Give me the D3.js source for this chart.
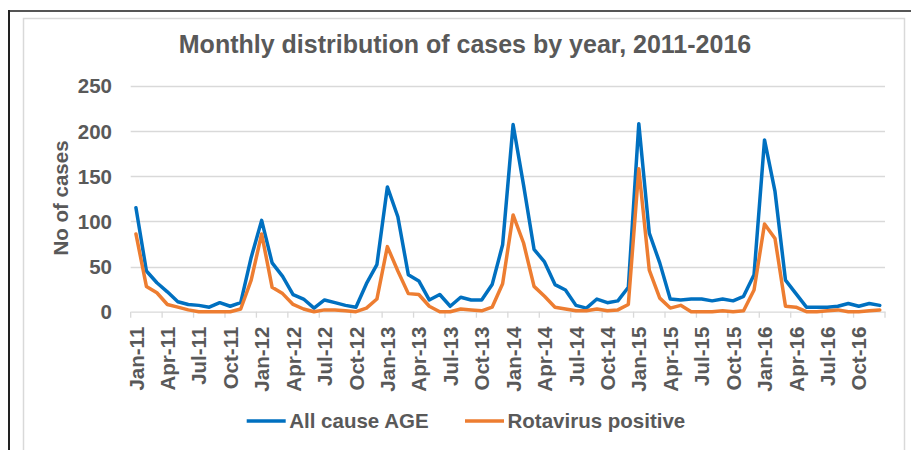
<!DOCTYPE html>
<html><head><meta charset="utf-8">
<script src="https://cdn.jsdelivr.net/npm/d3@7"></script>
<style>
html,body{margin:0;padding:0;background:#fff;}
svg text{font-family:"Liberation Sans",Arial,sans-serif;font-weight:bold;fill:#595959;}
</style></head>
<body>
<svg id="c" width="911" height="450"></svg>
<script>
const months = [
"Jan-11","Feb-11","Mar-11","Apr-11","May-11","Jun-11","Jul-11","Aug-11","Sep-11","Oct-11","Nov-11","Dec-11",
"Jan-12","Feb-12","Mar-12","Apr-12","May-12","Jun-12","Jul-12","Aug-12","Sep-12","Oct-12","Nov-12","Dec-12",
"Jan-13","Feb-13","Mar-13","Apr-13","May-13","Jun-13","Jul-13","Aug-13","Sep-13","Oct-13","Nov-13","Dec-13",
"Jan-14","Feb-14","Mar-14","Apr-14","May-14","Jun-14","Jul-14","Aug-14","Sep-14","Oct-14","Nov-14","Dec-14",
"Jan-15","Feb-15","Mar-15","Apr-15","May-15","Jun-15","Jul-15","Aug-15","Sep-15","Oct-15","Nov-15","Dec-15",
"Jan-16","Feb-16","Mar-16","Apr-16","May-16","Jun-16","Jul-16","Aug-16","Sep-16","Oct-16","Nov-16","Dec-16"];
const allCauseAGE = [
115,45,32,22,11,8,7,5,10,6,10,60,
101,54,39,19,14,4,13,10,7,5,31,52,
138,105,41,34,13,19,6,16,13,13,30,74,
207,140,69,55,30,24,7,4,14,10,12,27,
208,87,54,14,13,14,14,12,14,12,17,41,
190,133,35,20,5,5,5,6,9,6,9,7];
const rotavirusPositive = [
86,28,21,8,5,2,0,0,0,0,3,35,
86,27,20,8,3,0,2,2,1,0,4,14,
72,45,20,19,6,0,0,3,2,1,5,31,
107,76,28,17,5,3,1,1,3,1,2,8,
158,46,15,4,7,0,0,0,1,0,1,24,
97,81,6,5,0,0,1,2,0,0,1,2];
const yTicks = [0,50,100,150,200,250];
const seriesNames = ["All cause AGE","Rotavirus positive"];
const colors = ["#0070C0","#ED7D31"];

const svg = d3.select("#c");
// frame
svg.append("line").attr("x1",9).attr("x2",911).attr("y1",11).attr("y2",11).attr("stroke","#555").attr("stroke-width",2);
svg.append("line").attr("x1",9).attr("x2",9).attr("y1",10).attr("y2",450).attr("stroke","#222").attr("stroke-width",2);
svg.append("rect").attr("x",23.5).attr("y",18.5).attr("width",881).attr("height",440).attr("fill","none").attr("stroke","#d9d9d9").attr("stroke-width",1.5);

const x = d3.scaleBand().domain(months).range([130.7,885]).padding(0);
const y = d3.scaleLinear().domain([0,250]).range([311.7,85.7]);

// gridlines
svg.append("g").selectAll("line").data(yTicks.slice(1)).join("line")
  .attr("x1",130.7).attr("x2",885).attr("y1",d=>Math.round(y(d))+0.5).attr("y2",d=>Math.round(y(d))+0.5)
  .attr("stroke","#d9d9d9").attr("stroke-width",1.3);

// y axis labels
const ya = svg.append("g").attr("transform","translate(112,0)")
  .call(d3.axisLeft(y).tickValues(yTicks).tickSize(0).tickPadding(0));
ya.select(".domain").remove();
ya.selectAll("text").attr("font-size",20.5).attr("fill","#595959").attr("font-family",null).attr("dy","0.35em");

// x axis
const xa = svg.append("g").attr("transform",`translate(0,${y(0)})`)
  .call(d3.axisBottom(x).tickValues(months.filter((d,i)=>i%3===0)).tickSize(0));
xa.select(".domain").attr("stroke","#d9d9d9").attr("stroke-width",1.3);
xa.selectAll("text").attr("font-size",20.5).attr("fill","#595959").attr("font-family",null)
  .attr("transform","rotate(-90)").attr("text-anchor","end")
  .attr("x",-15).attr("y",0.5).attr("dy","0.35em");
// tick marks at category boundaries
const boundaries = months.filter((d,i)=>i%3===0).map(d=>x(d)).concat([x.range()[1]]);
svg.append("g").selectAll("line").data(boundaries).join("line")
  .attr("x1",d=>d).attr("x2",d=>d).attr("y1",y(0)).attr("y2",y(0)+6)
  .attr("stroke","#d9d9d9").attr("stroke-width",1.3);

// lines
const line = d3.line().x((d,i)=>x(months[i])+x.bandwidth()/2).y(d=>y(d));
[allCauseAGE, rotavirusPositive].forEach((s,k)=>{
  svg.append("path").datum(s).attr("d",line).attr("fill","none")
    .attr("stroke",colors[k]).attr("stroke-width",3.5).attr("stroke-linejoin","round").attr("stroke-linecap","round");
});

// title
svg.append("text").attr("x",465).attr("y",53).attr("text-anchor","middle").attr("font-size",25)
  .text("Monthly distribution of cases by year, 2011-2016");
// y title
svg.append("text").attr("transform","translate(67.7,198) rotate(-90)").attr("text-anchor","middle").attr("font-size",20.5)
  .text("No of cases");

// legend
const legX = [246.7, 465];
seriesNames.forEach((n,k)=>{
  const g = svg.append("g");
  g.append("line").attr("x1",legX[k]).attr("x2",legX[k]+39).attr("y1",421).attr("y2",421)
    .attr("stroke",colors[k]).attr("stroke-width",3.5);
  g.append("text").attr("x",legX[k]+42.5).attr("y",421).attr("dy","0.35em").attr("font-size",20.5).text(n);
});
</script>
</body></html>
